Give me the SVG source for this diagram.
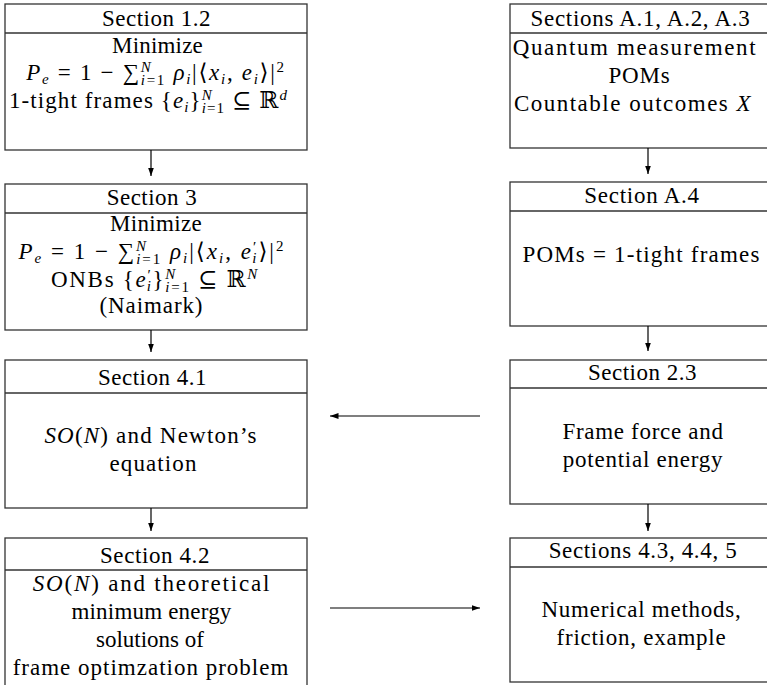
<svg xmlns="http://www.w3.org/2000/svg" width="767" height="685" viewBox="0 0 767 685" font-family="Liberation Serif, DejaVu Serif, serif" font-size="23">
<style>
.box{fill:#fff;stroke:#333;stroke-width:1.3}
.hl{stroke:#333;stroke-width:1.3}
text{fill:#000;text-anchor:middle}
.i{font-style:italic}
.s{font-size:15px}
.c{stroke:#000;stroke-width:1.2;fill:none;marker-end:url(#ah)}
</style>
<defs>
<marker id="ah" markerUnits="userSpaceOnUse" markerWidth="9" markerHeight="6" refX="8.5" refY="3" orient="auto">
<path d="M0,0 L8.5,3 L0,6 Z" fill="#000"/>
</marker>
</defs>
<rect width="767" height="685" fill="#fff"/>

<g id="sec12">
<rect class="box" x="5" y="4" width="302" height="146"/>
<line class="hl" x1="5" y1="33" x2="307" y2="33"/>
<text x="156.5" y="26" letter-spacing="0.5">Section 1.2</text>
<text x="157.5" y="53" letter-spacing="0.2">Minimize</text>
<text x="156" y="80" letter-spacing="1.7"><tspan class="i">P</tspan><tspan class="s i" dy="4">e</tspan><tspan dy="-4"> = 1 − ∑</tspan><tspan class="s i" dy="-8">N</tspan><tspan class="s" dx="-11.7" dy="12.5"><tspan class="i">i</tspan>=1</tspan><tspan class="i" dy="-4.5"> ρ</tspan><tspan class="s i" dy="4">i</tspan><tspan dy="-4">|⟨</tspan><tspan class="i">x</tspan><tspan class="s i" dy="4">i</tspan><tspan dy="-4">, </tspan><tspan class="i">e</tspan><tspan class="s i" dy="4">i</tspan><tspan dy="-4">⟩|</tspan><tspan class="s" dy="-8">2</tspan></text>
<text x="148.5" y="108" letter-spacing="1.1">1-tight frames {<tspan class="i">e</tspan><tspan class="s i" dy="4">i</tspan><tspan dy="-4">}</tspan><tspan class="s i" dy="-8">N</tspan><tspan class="s" dx="-11.1" dy="12.5"><tspan class="i">i</tspan>=1</tspan><tspan dy="-4.5"> ⊆ ℝ</tspan><tspan class="s i" dy="-8">d</tspan></text>
</g>

<g id="sec3">
<rect class="box" x="5" y="184" width="302" height="146"/>
<line class="hl" x1="5" y1="213" x2="307" y2="213"/>
<text x="152" y="205" letter-spacing="0.5">Section 3</text>
<text x="156" y="231" letter-spacing="0.3">Minimize</text>
<text x="152" y="259" letter-spacing="2"><tspan class="i">P</tspan><tspan class="s i" dy="4">e</tspan><tspan dy="-4"> = 1 − ∑</tspan><tspan class="s i" dy="-8">N</tspan><tspan class="s" dx="-12" dy="12.5"><tspan class="i">i</tspan>=1</tspan><tspan class="i" dy="-4.5"> ρ</tspan><tspan class="s i" dy="4">i</tspan><tspan dy="-4">|⟨</tspan><tspan class="i">x</tspan><tspan class="s i" dy="4">i</tspan><tspan dy="-4">, </tspan><tspan class="i">e</tspan><tspan class="s" dy="-7">′</tspan><tspan class="s i" dx="-6" dy="11">i</tspan><tspan dy="-4">⟩|</tspan><tspan class="s" dy="-8">2</tspan></text>
<text x="155" y="287" letter-spacing="1.7">ONBs {<tspan class="i">e</tspan><tspan class="s" dy="-7">′</tspan><tspan class="s i" dx="-5.7" dy="11">i</tspan><tspan dy="-4">}</tspan><tspan class="s i" dy="-8">N</tspan><tspan class="s" dx="-11.7" dy="12.5"><tspan class="i">i</tspan>=1</tspan><tspan dy="-4.5"> ⊆ ℝ</tspan><tspan class="s i" dy="-8">N</tspan></text>
<text x="151.5" y="313" letter-spacing="0.9">(Naimark)</text>
</g>

<g id="sec41">
<rect class="box" x="5" y="360" width="302" height="148"/>
<line class="hl" x1="5" y1="393" x2="307" y2="393"/>
<text x="152.5" y="385" letter-spacing="0.5">Section 4.1</text>
<text x="151" y="443" letter-spacing="1.2"><tspan class="i">SO</tspan>(<tspan class="i">N</tspan>) and Newton’s</text>
<text x="153.5" y="471" letter-spacing="1.1">equation</text>
</g>

<g id="sec42">
<rect class="box" x="5" y="538" width="302" height="160"/>
<line class="hl" x1="5" y1="570" x2="307" y2="570"/>
<text x="155" y="563" letter-spacing="0.6">Section 4.2</text>
<text x="152" y="591" letter-spacing="1.8"><tspan class="i">SO</tspan>(<tspan class="i">N</tspan>) and theoretical</text>
<text x="151.5" y="619" letter-spacing="0.2">minimum energy</text>
<text x="150" y="647">solutions of</text>
<text x="151" y="675" letter-spacing="1">frame optimzation problem</text>
</g>

<g id="secA123">
<rect class="box" x="510" y="4" width="270" height="144"/>
<line class="hl" x1="510" y1="33" x2="780" y2="33"/>
<text x="640.5" y="26" letter-spacing="0.7">Sections A.1, A.2, A.3</text>
<text x="635" y="55" letter-spacing="1.6">Quantum measurement</text>
<text x="639.5" y="83" letter-spacing="0.8">POMs</text>
<text x="633" y="111" letter-spacing="1.5">Countable outcomes <tspan class="i">X</tspan></text>
</g>

<g id="secA4">
<rect class="box" x="510" y="182" width="270" height="144"/>
<line class="hl" x1="510" y1="211" x2="780" y2="211"/>
<text x="642" y="203" letter-spacing="0.75">Section A.4</text>
<text x="641.5" y="262" letter-spacing="1.2">POMs = 1-tight frames</text>
</g>

<g id="sec23">
<rect class="box" x="510" y="360" width="270" height="144"/>
<line class="hl" x1="510" y1="388" x2="780" y2="388"/>
<text x="642.5" y="380" letter-spacing="0.5">Section 2.3</text>
<text x="643" y="439" letter-spacing="0.7">Frame force and</text>
<text x="643" y="467" letter-spacing="0.75">potential energy</text>
</g>

<g id="sec43">
<rect class="box" x="510" y="538" width="270" height="144"/>
<line class="hl" x1="510" y1="567" x2="780" y2="567"/>
<text x="643" y="558" letter-spacing="0.65">Sections 4.3, 4.4, 5</text>
<text x="641.5" y="617" letter-spacing="0.75">Numerical methods,</text>
<text x="641.5" y="645" letter-spacing="0.75">friction, example</text>
</g>

<g id="connectors">
<line class="c" x1="151" y1="150" x2="151" y2="176"/>
<line class="c" x1="151" y1="330" x2="151" y2="352"/>
<line class="c" x1="151" y1="508" x2="151" y2="531"/>
<line class="c" x1="648" y1="148" x2="648" y2="174"/>
<line class="c" x1="648" y1="326" x2="648" y2="351"/>
<line class="c" x1="648" y1="504" x2="648" y2="531"/>
<line class="c" x1="480" y1="416" x2="330" y2="416"/>
<line class="c" x1="330" y1="608" x2="480" y2="608"/>
</g>
</svg>
